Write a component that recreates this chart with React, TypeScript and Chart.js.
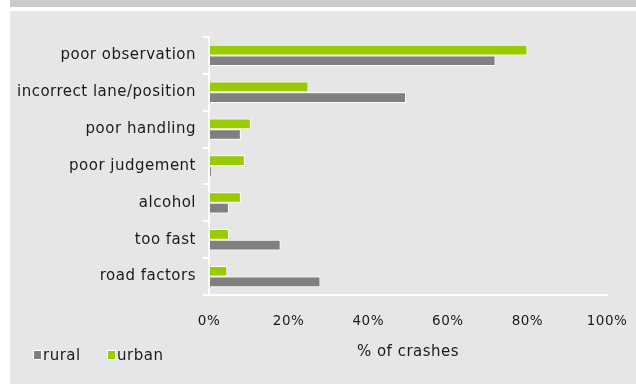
import React, { useEffect, useRef } from "react";
import { Chart, registerables } from "chart.js";

Chart.register(...registerables);

const categories = [
  "poor observation",
  "incorrect lane/position",
  "poor handling",
  "poor judgement",
  "alcohol",
  "too fast",
  "road factors",
];
const urbanValues = [80, 25, 10.5, 9, 8, 5, 4.6];
const ruralValues = [72, 49.5, 8, 0.8, 5, 18, 28];
const xTickValues = [0, 20, 40, 60, 80, 100];
const xAxisTitle = "% of crashes";

const FONT = "'DejaVu Sans', Verdana, sans-serif";
const TEXT = "#1a1a1a";
const SPACING = "0.5px";

const spacingPlugin = {
  id: "letterSpacing",
  beforeUpdate(chart: any) {
    chart.ctx.letterSpacing = SPACING;
  },
  beforeDraw(chart: any) {
    chart.ctx.letterSpacing = SPACING;
  },
};

const legendPlugin = {
  id: "customLegend",
  afterDraw(chart: any) {
    const ctx = chart.ctx;
    const items = [...chart.data.datasets].reverse();
    let x = 23;
    const y = 344;
    ctx.save();
    ctx.letterSpacing = SPACING;
    ctx.font = `15px ${FONT}`;
    ctx.textBaseline = "middle";
    ctx.textAlign = "left";
    items.forEach((ds: any) => {
      ctx.fillStyle = "#ffffff";
      ctx.fillRect(x, y - 5, 9, 10);
      ctx.fillStyle = ds.backgroundColor;
      ctx.fillRect(x + 1, y - 4, 7, 8);
      ctx.fillStyle = TEXT;
      ctx.fillText(ds.label, x + 10, y + 1);
      x += 74;
    });
    ctx.restore();
  },
};

export default function App() {
  const ref = useRef<HTMLCanvasElement | null>(null);

  useEffect(() => {
    if (!ref.current) return;
    const chart = new Chart(ref.current, {
      type: "bar",
      data: {
        labels: categories,
        datasets: [
          {
            label: "urban",
            data: urbanValues,
            backgroundColor: "#99cc00",
            borderColor: "#ffffff",
            borderWidth: 1,
            borderSkipped: false,
            barPercentage: 1,
            categoryPercentage: 0.58,
          },
          {
            label: "rural",
            data: ruralValues,
            backgroundColor: "#808080",
            borderColor: "#ffffff",
            borderWidth: 1,
            borderSkipped: false,
            barPercentage: 1,
            categoryPercentage: 0.58,
          },
        ],
      },
      options: {
        indexAxis: "y",
        responsive: false,
        animation: false,
        layout: { padding: { left: 0, right: 29, top: 26, bottom: 0 } },
        plugins: {
          legend: { display: false },
          tooltip: { enabled: false },
        },
        scales: {
          x: {
            min: 0,
            max: 100,
            afterBuildTicks: (scale: any) => {
              scale.ticks = xTickValues.map((v) => ({ value: v }));
            },
            afterFit: (scale: any) => {
              scale.height = 89;
            },
            grid: { display: false, drawTicks: true, tickLength: 18 },
            border: { display: true, color: "#ffffff", width: 2 },
            ticks: {
              padding: 0,
              maxRotation: 0,
              color: TEXT,
              font: { family: FONT, size: 13.5 },
              callback: (v: any) => `${v}%`,
            },
            title: {
              display: true,
              text: xAxisTitle,
              color: TEXT,
              font: { family: FONT, size: 15 },
              padding: { top: 15.6, bottom: 23 },
            },
          },
          y: {
            afterFit: (scale: any) => {
              scale.width = 199;
            },
            grid: {
              display: true,
              drawOnChartArea: false,
              drawTicks: true,
              tickLength: 6,
              color: "#ffffff",
              lineWidth: 2,
            },
            border: { display: true, color: "#ffffff", width: 2 },
            ticks: {
              padding: 7,
              color: TEXT,
              font: { family: FONT, size: 15 },
            },
          },
        },
      },
      plugins: [spacingPlugin, legendPlugin],
    });
    return () => chart.destroy();
  }, []);

  return (
    <div style={{ position: "fixed", left: 0, top: 0, width: 636, height: 384, background: "#ffffff" }}>
      <div style={{ position: "absolute", left: 10, top: 0, width: 626, height: 7, background: "#cbcbcb" }} />
      <div style={{ position: "absolute", left: 10, top: 11, width: 626, height: 373, background: "#e6e6e6" }} />
      <canvas ref={ref} width={626} height={373} style={{ position: "absolute", left: 10, top: 11 }} />
    </div>
  );
}
